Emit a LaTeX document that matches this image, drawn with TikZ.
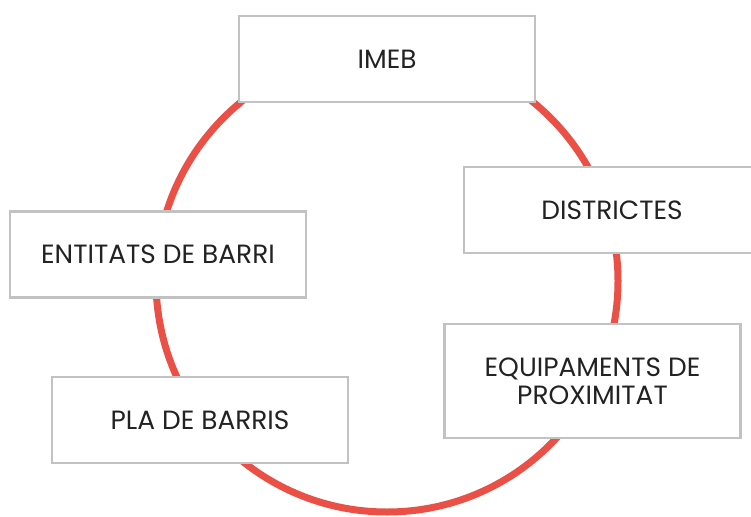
\documentclass[tikz,border=0pt]{standalone}
\usepackage{fontspec}
\setmainfont{Poppins}
\usepackage{xcolor}
\definecolor{ringred}{HTML}{EA5045}
\definecolor{boxgray}{HTML}{C2C2C2}
\definecolor{textdark}{HTML}{222222}

\begin{document}
\begin{tikzpicture}[x=1pt,y=-1pt,
  infobox/.style={draw=boxgray,line width=2.4pt,fill=white,text=textdark,
    minimum width=296pt,minimum height=86pt,align=center,
    font=\fontsize{26.4}{28}\selectfont,inner sep=0pt}]
\useasboundingbox (0,0) rectangle (751,516);
\clip (0,0) rectangle (751,516);
% Red ring behind the boxes
\draw[ringred,line width=7pt] (387,281) circle (231);

% Top and right side
\node[infobox] (imeb) at (387,59) {IMEB};
\node[infobox] (districtes) at (612,210) {DISTRICTES};
\node[infobox,minimum height=114pt] (equipaments) at (592.5,381) {EQUIPAMENTS DE\\PROXIMITAT};

% Left side
\node[infobox] (entitats) at (158,254.5) {ENTITATS DE BARRI};
\node[infobox] (pla) at (200,420) {PLA DE BARRIS};
\end{tikzpicture}
\end{document}
